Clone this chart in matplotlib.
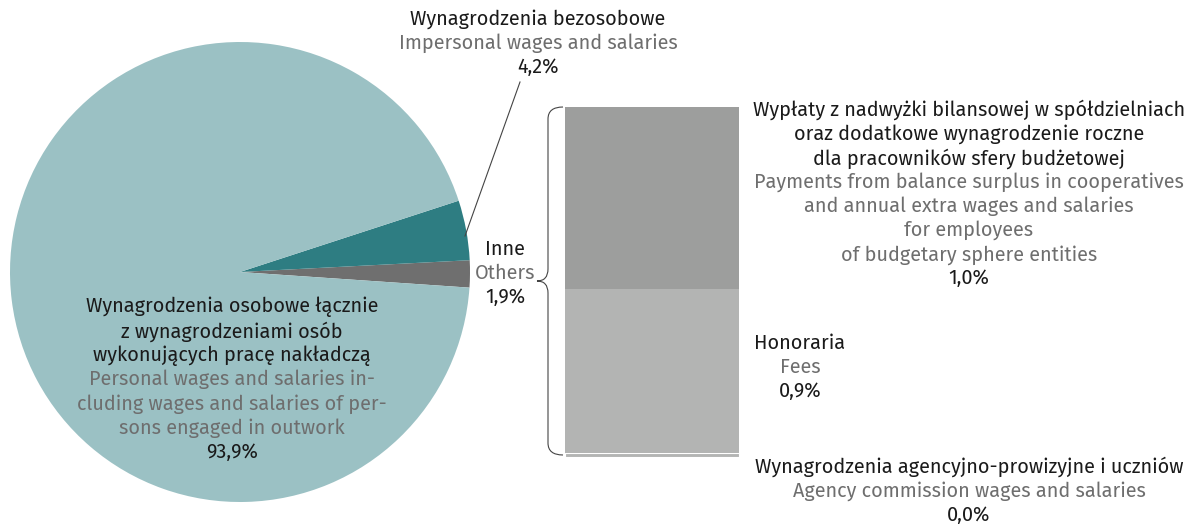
import matplotlib.pyplot as plt
from matplotlib.path import Path
from matplotlib.patches import PathPatch

plt.rcParams['font.family'] = ['Fira Sans', 'Open Sans', 'DejaVu Sans']

# pie data (counter-clockwise from the right side)
pie_values = [1.9, 4.2, 93.9]
pie_colors = ['#6f6f6f', '#2e7d82', '#9bc1c4']

# breakdown of "Inne / Others" (bottom to top)
bar_labels = ['Agency', 'Fees', 'Payments']
bar_values = [0.02, 0.9, 1.0]
bar_colors = ['#b3b4b3', '#b3b4b3', '#9d9e9d']

W, H = 1193, 524
fig = plt.figure(figsize=(W / 100, H / 100), dpi=100)


def px_axes(x0, y0, x1, y1):
    return fig.add_axes([x0 / W, 1 - y1 / H, (x1 - x0) / W, (y1 - y0) / H])


# pie
ax_pie = px_axes(10, 42, 470, 502)
ax_pie.pie(pie_values, colors=pie_colors, startangle=-3.9, counterclock=True,
           radius=1, wedgeprops=dict(linewidth=0))
ax_pie.set_xlim(-1, 1)
ax_pie.set_ylim(-1, 1)
ax_pie.set_aspect('equal')
ax_pie.axis('off')

# stacked bar
ax_bar = px_axes(565, 107, 739, 457)
bottom = 0
for v, c in zip(bar_values, bar_colors):
    ax_bar.bar(0, v, bottom=bottom, width=1, color=c,
               edgecolor='white' if v < 0.1 else c, linewidth=0.8 if v < 0.1 else 0)
    bottom += v
ax_bar.set_xlim(-0.5, 0.5)
ax_bar.set_ylim(0, sum(bar_values))
ax_bar.axis('off')

# overlay for annotations in pixel coords
ov = fig.add_axes([0, 0, 1, 1], zorder=5)
ov.set_xlim(0, W)
ov.set_ylim(H, 0)
ov.axis('off')
ov.patch.set_alpha(0)

DARK = '#1a1a1a'
GRAY = '#6e6e6e'
FS = 14.3


def block(x, y, lines, step=24.2):
    for i, (txt, col) in enumerate(lines):
        ov.text(x, y + i * step, txt, color=col, fontsize=FS,
                ha='center', va='center')


block(538, 19, [('Wynagrodzenia bezosobowe', DARK),
                ('Impersonal wages and salaries', GRAY),
                ('4,2%', DARK)])
ov.plot([520, 465], [82, 236], color='#444444', lw=0.8)

block(505, 249, [('Inne', DARK), ('Others', GRAY), ('1,9%', DARK)])

block(232, 307, [('Wynagrodzenia osobowe łącznie', DARK),
                 ('z wynagrodzeniami osób', DARK),
                 ('wykonujących pracę nakładczą', DARK),
                 ('Personal wages and salaries in-', GRAY),
                 ('cluding wages and salaries of per-', GRAY),
                 ('sons engaged in outwork', GRAY),
                 ('93,9%', DARK)])

block(969, 110, [('Wypłaty z nadwyżki bilansowej w spółdzielniach', DARK),
                 ('oraz dodatkowe wynagrodzenie roczne', DARK),
                 ('dla pracowników sfery budżetowej', DARK),
                 ('Payments from balance surplus in cooperatives', GRAY),
                 ('and annual extra wages and salaries', GRAY),
                 ('for employees', GRAY),
                 ('of budgetary sphere entities', GRAY),
                 ('1,0%', DARK)], step=24.1)

block(800, 343, [('Honoraria', DARK), ('Fees', GRAY), ('0,9%', DARK)])

block(969, 467, [('Wynagrodzenia agencyjno-prowizyjne i uczniów', DARK),
                 ('Agency commission wages and salaries', GRAY),
                 ('0,0%', DARK)])

# curly brace
xb, top, bot, mid, tip = 548, 107, 455, 281, 537
r = 12
verts = [(563, top), (xb, top), (xb, top + r), (xb, mid - r),
         (xb, mid), (tip, mid), (xb, mid), (xb, mid + r),
         (xb, bot - r), (xb, bot), (563, bot)]
codes = [Path.MOVETO, Path.CURVE3, Path.CURVE3, Path.LINETO,
         Path.CURVE3, Path.CURVE3, Path.CURVE3, Path.CURVE3,
         Path.LINETO, Path.CURVE3, Path.CURVE3]
ov.add_patch(PathPatch(Path(verts, codes), fill=False, edgecolor='#444444', lw=0.8))

fig.savefig('out.png', dpi=100)
